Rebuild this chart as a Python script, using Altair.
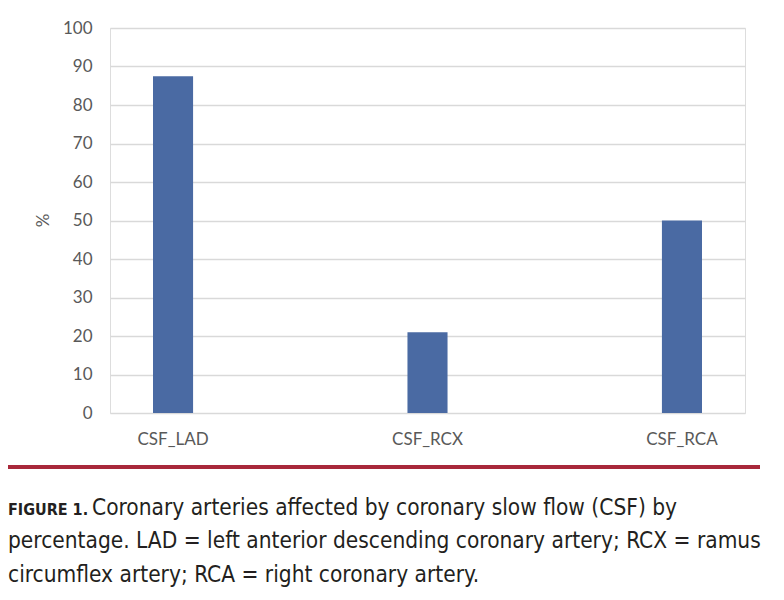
import altair as alt
import pandas as pd

categories = ["CSF_LAD", "CSF_RCX", "CSF_RCA"]
values = [87.5, 21, 50]
y_ticks = [0, 10, 20, 30, 40, 50, 60, 70, 80, 90, 100]
caption_bold = "FIGURE 1."
caption_lines = [
    "Coronary arteries affected by coronary slow flow (CSF) by",
    "percentage. LAD = left anterior descending coronary artery; RCX = ramus",
    "circumflex artery; RCA = right coronary artery.",
]

df = pd.DataFrame({"cat": categories, "val": values})

W, H = 635, 385
FONT = "Lato"
CAP_FONT = "DejaVu Sans Condensed, Roboto"
CAP_SIZE = 22.5

bars = alt.Chart(df).mark_bar(color="#4A6AA3").encode(
    x=alt.X("cat:N", sort=categories, title=None,
            scale=alt.Scale(paddingInner=0.8425, paddingOuter=0.169),
            axis=alt.Axis(labelAngle=0, labelFont=FONT, labelFontSize=17,
                          labelColor="#595959", labelPadding=18, ticks=False,
                          domain=False, grid=False)),
    y=alt.Y("val:Q", title="%", scale=alt.Scale(domain=[0, 100]),
            axis=alt.Axis(values=y_ticks, labelFont=FONT, labelFontSize=17,
                          labelColor="#595959", labelPadding=18, ticks=False,
                          domain=False, gridColor="#D9D9D9", gridWidth=1.5,
                          titleFont=FONT, titleFontSize=17, titleColor="#595959",
                          titleFontWeight="normal", titleX=-58, titleY=192)),
)

red_line = alt.Chart(df).mark_rule(color="#A8283A", strokeWidth=4).encode(
    x=alt.value(-102), x2=alt.value(650), y=alt.value(439)
)

bold_txt = alt.Chart(pd.DataFrame({"t": [caption_bold]})).mark_text(
    font=CAP_FONT, fontSize=16, fontWeight="bold", color="#231F20",
    align="left", baseline="alphabetic"
).encode(text="t:N", x=alt.value(-102), y=alt.value(487))

line1 = alt.Chart(pd.DataFrame({"t": [caption_lines[0]]})).mark_text(
    font=CAP_FONT, fontSize=CAP_SIZE, color="#231F20", align="left", baseline="alphabetic"
).encode(text="t:N", x=alt.value(-18), y=alt.value(487))

line2 = alt.Chart(pd.DataFrame({"t": [caption_lines[1]]})).mark_text(
    font=CAP_FONT, fontSize=CAP_SIZE, color="#231F20", align="left", baseline="alphabetic"
).encode(text="t:N", x=alt.value(-102), y=alt.value(520))

line3 = alt.Chart(pd.DataFrame({"t": [caption_lines[2]]})).mark_text(
    font=CAP_FONT, fontSize=CAP_SIZE, color="#231F20", align="left", baseline="alphabetic"
).encode(text="t:N", x=alt.value(-102), y=alt.value(554))

chart = alt.layer(bars, red_line, bold_txt, line1, line2, line3).properties(
    width=W, height=H,
    autosize=alt.AutoSizeParams(type="none"),
    padding={"left": 102, "top": 20, "right": 30, "bottom": 180},
).configure_view(strokeWidth=0).configure(background="white")

chart.save("out.html", embed_options={"renderer": "svg", "actions": False})
